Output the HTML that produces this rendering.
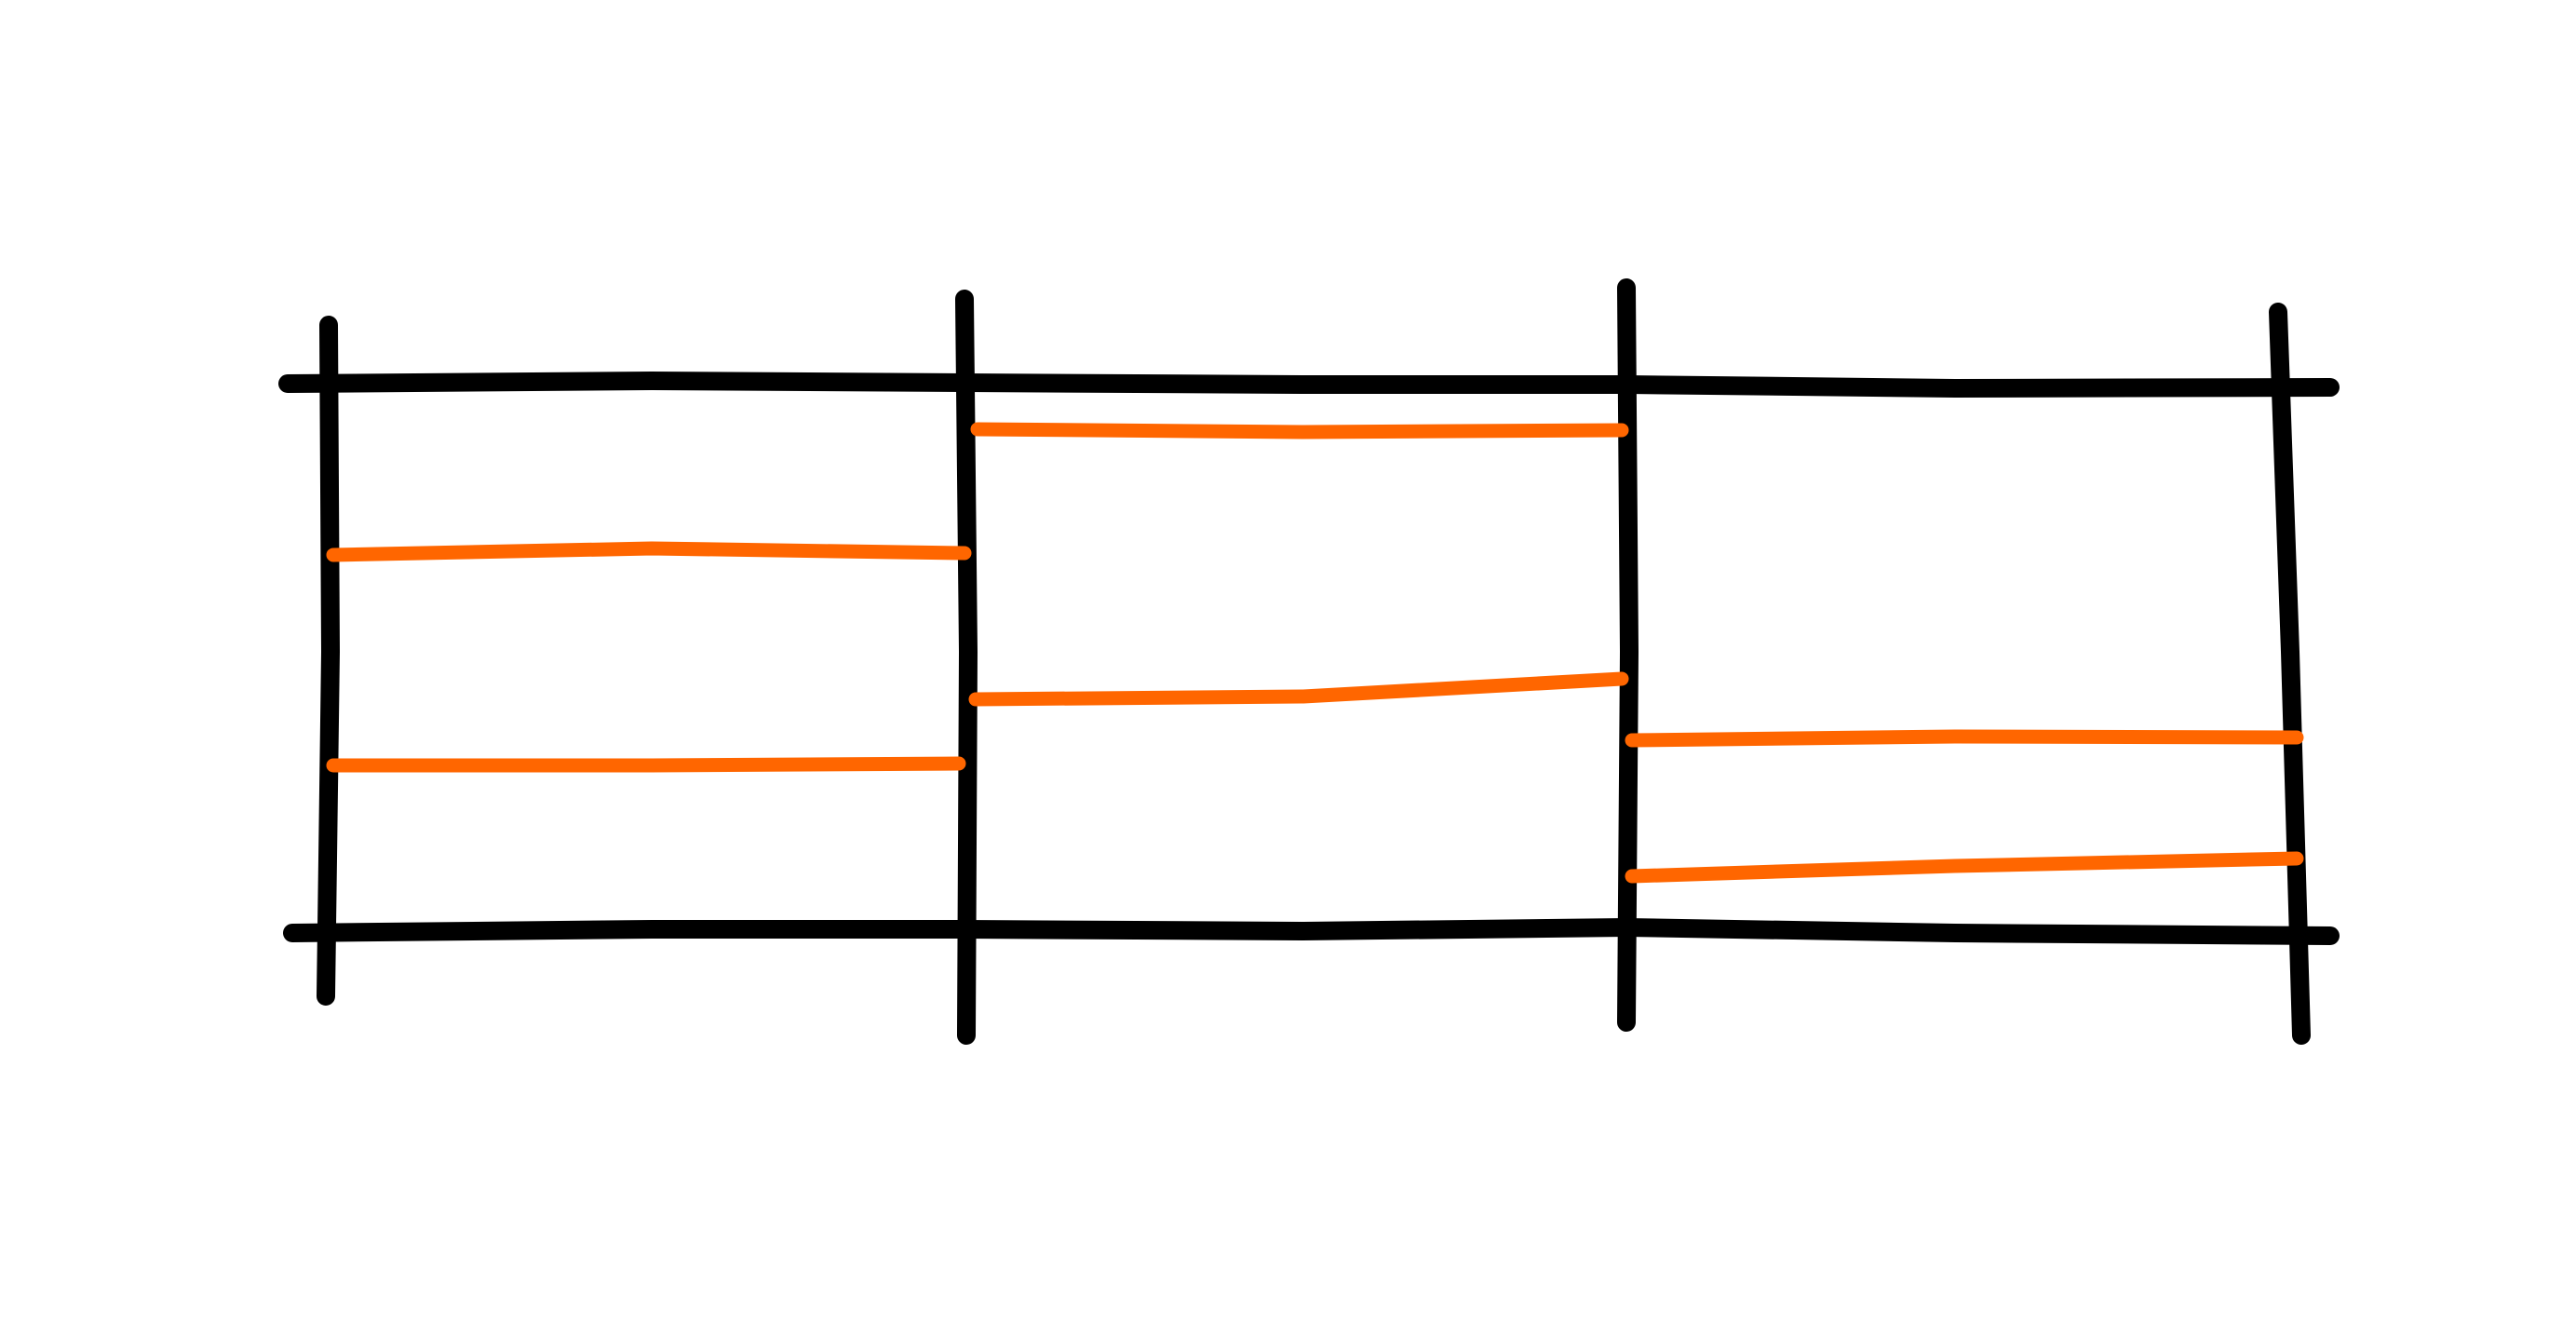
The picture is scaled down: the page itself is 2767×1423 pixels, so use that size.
<!DOCTYPE html>
<html><head><meta charset="utf-8"><style>html,body{margin:0;padding:0;background:#fff}svg{display:block}</style></head>
<body>
<svg width="2767" height="1423" viewBox="0 0 2767 1423" xmlns="http://www.w3.org/2000/svg">
<g stroke="#000" stroke-width="20" stroke-linecap="round" stroke-linejoin="round" fill="none">
<path d="M309 412 L700 409 L1036 411 L1400 413 L1747 413 L2100 417 L2503 416"/>
<path d="M314 1002 L700 998 L1036 998 L1400 1000 L1747 996 L2100 1002 L2503 1005"/>
<path d="M353 349 L355 700 L350 1070"/>
<path d="M1036 321 L1040 700 L1038 1112"/>
<path d="M1747 309 L1750 700 L1747 1098"/>
<path d="M2447 335 L2460 700 L2472 1112"/>
</g>
<g stroke="#ff6600" stroke-width="15" stroke-linecap="round" stroke-linejoin="round" fill="none">
<path d="M358 596 L700 589 L1036 594"/>
<path d="M358 822 L700 822 L1030 820"/>
<path d="M1050 461 L1400 464 L1742 462"/>
<path d="M1048 751 L1400 748 L1742 729"/>
<path d="M1753 795 L2100 791 L2467 792"/>
<path d="M1753 941 L2100 930 L2467 922"/>
</g>
</svg>
</body></html>
